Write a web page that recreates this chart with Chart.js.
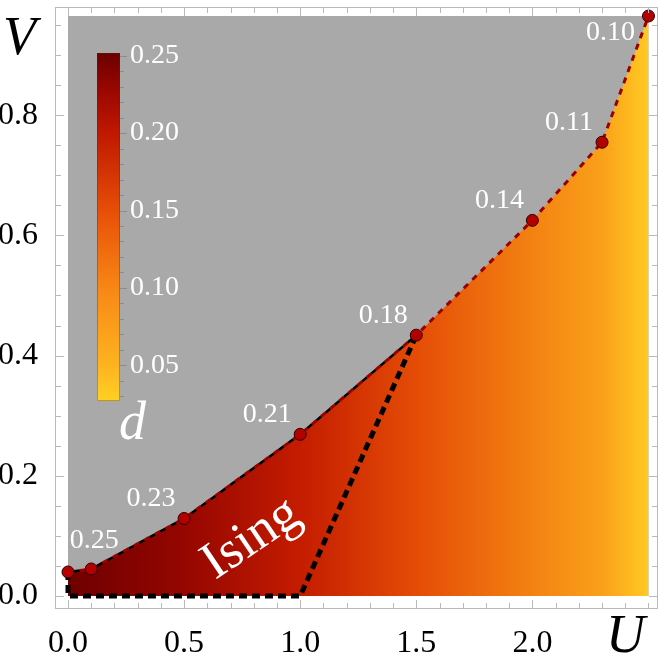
<!DOCTYPE html>
<html>
<head>
<meta charset="utf-8">
<script src="https://cdn.jsdelivr.net/npm/chart.js@4.4.0/dist/chart.umd.min.js"></script>
<style>
html, body { margin: 0; padding: 0; background: #fff; }
</style>
</head>
<body>
<canvas id="c" width="665" height="654"></canvas>
<script>
// phase boundary (U, V) and the d value written next to each point
var uVals = [0, 0.1, 0.5, 1.0, 1.5, 2.0, 2.3, 2.5];
var vVals = [0.040, 0.045, 0.129, 0.269, 0.434, 0.625, 0.755, 0.965];
var dLabels = ['', '0.25', '0.23', '0.21', '0.18', '0.14', '0.11', '0.10'];

// lower edge of the Ising region
var isingU = [0, 0, 1.0, 1.5];
var isingV = [0.040, 0, 0, 0.434];

// axis ticks
var xTickLabels = [0, 0.5, 1.0, 1.5, 2.0];
var yTickLabels = [0, 0.2, 0.4, 0.6, 0.8];
var xMinorStep = 0.1, xMinorMax = 2.5;
var yMinorStep = 0.05, yMinorMax = 0.95;

// colour bar for d
var cbTicks = [0.05, 0.10, 0.15, 0.20, 0.25];
var cbRange = [0.027, 0.2517];

var SERIF = "'Liberation Serif', 'DejaVu Serif', serif";

var fillStops = [[0, '#6e0000'], [0.2, '#950600'], [0.4, '#c41c00'], [0.6, '#e44c06'], [0.8, '#f38212'], [0.92, '#faa01a'], [1, '#ffca22']];
var cbStops = [[0, '#6a0000'], [0.1, '#980600'], [0.23, '#c01800'], [0.46, '#e85008'], [0.68, '#f88816'], [0.9, '#fdb420'], [1, '#ffd024']];

function steps(step, max) {
    var out = [];
    for (var i = 0; i * step <= max + 1e-9; i++) out.push(Math.round(i * step * 1000) / 1000);
    return out;
}
var xMinor = steps(xMinorStep, xMinorMax);
var yMinor = steps(yMinorStep, yMinorMax);

function isMajor(v, list) {
    return list.some(function (m) { return Math.abs(m - v) < 1e-6; });
}

function pts(xs, ys) {
    return xs.map(function (x, i) { return { x: x, y: ys[i] }; });
}

function fillGradient(c) {
    var chart = c.chart;
    if (!chart.chartArea) return '#c41c00';
    var xs = chart.scales.x;
    var g = chart.ctx.createLinearGradient(xs.getPixelForValue(uVals[0]), 0, xs.getPixelForValue(uVals[uVals.length - 1]), 0);
    fillStops.forEach(function (s) { g.addColorStop(s[0], s[1]); });
    return g;
}

var decor = {
    id: 'decor',
    beforeDatasetsDraw: function (chart) {
        var c = chart.ctx, xs = chart.scales.x, ys = chart.scales.y;
        var x0 = xs.getPixelForValue(uVals[0]), x1 = xs.getPixelForValue(uVals[uVals.length - 1]);
        var y0 = ys.getPixelForValue(0), y1 = ys.getPixelForValue(Math.max.apply(null, vVals));
        c.save();
        c.fillStyle = '#a9a9a9';
        c.fillRect(x0, y1, x1 - x0, y0 - y1);
        c.restore();
    },
    afterDatasetsDraw: function (chart) {
        var c = chart.ctx, xs = chart.scales.x, ys = chart.scales.y, ca = chart.chartArea;
        c.save();

        // d labels next to the points
        c.fillStyle = '#fff';
        c.font = '28px ' + SERIF;
        c.textAlign = 'center';
        c.textBaseline = 'middle';
        dLabels.forEach(function (t, i) {
            if (!t) return;
            var px = xs.getPixelForValue(uVals[i]), py = ys.getPixelForValue(vVals[i]);
            var dx = -33, dy = -20;
            if (i === 1) { dx = 3; dy = -28; }
            if (i === dLabels.length - 1) { dx = -38; dy = 17; }
            c.fillText(t, px + dx, py + dy);
        });

        // Ising label
        c.save();
        c.translate(xs.getPixelForValue(0.79), ys.getPixelForValue(0.095));
        c.rotate(-34 * Math.PI / 180);
        c.font = '53px ' + SERIF;
        c.fillText('Ising', 0, 0);
        c.restore();

        // colour bar
        var bx = ca.left + 42, bw = 23, bt = ca.top + 46, bh = 348;
        var g = c.createLinearGradient(0, bt, 0, bt + bh);
        cbStops.forEach(function (s) { g.addColorStop(s[0], s[1]); });
        c.fillStyle = g;
        c.fillRect(bx, bt, bw, bh);
        c.strokeStyle = 'rgba(90,40,0,0.35)';
        c.lineWidth = 1;
        c.strokeRect(bx + 0.5, bt + 0.5, bw - 1, bh - 1);
        var cbPix = function (d) { return bt + (cbRange[1] - d) / (cbRange[1] - cbRange[0]) * bh; };
        c.strokeStyle = '#8c8c8c';
        for (var d = 0.03; d <= 0.2501; d += 0.01) {
            var yy = Math.round(cbPix(d)) + 0.5;
            var major = isMajor(Math.round(d * 100) / 100, cbTicks);
            c.beginPath();
            c.moveTo(bx + bw, yy);
            c.lineTo(bx + bw + (major ? 7 : 4), yy);
            c.stroke();
        }
        c.fillStyle = '#fff';
        c.font = '28px ' + SERIF;
        c.textAlign = 'left';
        cbTicks.forEach(function (d) {
            c.fillText(d.toFixed(2), bx + bw + 10, cbPix(d));
        });
        c.font = 'italic 54px ' + SERIF;
        c.textBaseline = 'alphabetic';
        c.fillText('d', bx + 22, bt + bh + 38);

        c.restore();
    },
    afterDraw: function (chart) {
        var c = chart.ctx, xs = chart.scales.x, ys = chart.scales.y, ca = chart.chartArea;
        c.save();
        c.strokeStyle = '#b9b9b9';
        c.lineWidth = 1;
        c.strokeRect(ca.left + 0.5, ca.top + 0.5, ca.right - ca.left - 1, ca.bottom - ca.top - 1);
        c.beginPath();
        xs.ticks.forEach(function (t) {
            var px = Math.round(xs.getPixelForValue(t.value)) + 0.5;
            var len = isMajor(t.value, xTickLabels) ? 9 : 6;
            c.moveTo(px, ca.bottom); c.lineTo(px, ca.bottom - len);
            c.moveTo(px, ca.top); c.lineTo(px, ca.top + len);
        });
        ys.ticks.forEach(function (t) {
            var py = Math.round(ys.getPixelForValue(t.value)) + 0.5;
            var len = isMajor(t.value, yTickLabels) ? 9 : 6;
            c.moveTo(ca.left, py); c.lineTo(ca.left + len, py);
            c.moveTo(ca.right, py); c.lineTo(ca.right - len, py);
        });
        c.stroke();

        // axis letters
        c.fillStyle = '#000';
        c.font = 'italic 54px ' + SERIF;
        c.textAlign = 'left';
        c.textBaseline = 'alphabetic';
        c.fillText('V', ca.left - 52, ca.top + 47);
        c.fillText('U', ca.right - 52, ca.bottom + 43);
        c.restore();
    }
};

new Chart(document.getElementById('c'), {
    type: 'line',
    data: {
        datasets: [
            {
                // markers
                data: pts(uVals, vVals),
                showLine: false,
                pointRadius: 6,
                pointBackgroundColor: '#b30000',
                pointBorderColor: '#2a0000',
                pointBorderWidth: 1,
                order: 1
            },
            {
                // black dashes on the Ising part of the boundary
                data: pts(uVals.slice(0, 5), vVals.slice(0, 5)),
                borderColor: '#000',
                borderWidth: 2.5,
                borderDash: [6, 6],
                borderDashOffset: 6,
                pointRadius: 0,
                fill: false,
                order: 2
            },
            {
                // red dashed boundary
                data: pts(uVals, vVals),
                borderColor: '#9b0000',
                borderWidth: 3,
                borderDash: [6, 6],
                pointRadius: 0,
                fill: false,
                order: 3
            },
            {
                // Ising region lower edge
                data: pts(isingU, isingV),
                borderColor: '#000',
                borderWidth: 5,
                borderDash: [8, 5],
                pointRadius: 0,
                fill: false,
                order: 4
            },
            {
                // filled region under the boundary
                data: pts(uVals, vVals),
                borderWidth: 0,
                borderColor: 'rgba(0,0,0,0)',
                backgroundColor: fillGradient,
                pointRadius: 0,
                fill: 'origin',
                order: 5
            }
        ]
    },
    options: {
        responsive: false,
        animation: false,
        layout: { padding: { top: 5, right: 5, left: 0, bottom: 0 } },
        plugins: { legend: { display: false }, tooltip: { enabled: false } },
        elements: { line: { tension: 0 } },
        scales: {
            x: {
                type: 'linear',
                min: -0.056,
                max: 2.541,
                afterBuildTicks: function (s) { s.ticks = xMinor.map(function (v) { return { value: v }; }); },
                afterFit: function (s) { s.height = 45; s.paddingLeft = 0; s.paddingRight = 0; },
                grid: { display: false, drawTicks: false },
                border: { display: false },
                ticks: {
                    autoSkip: false,
                    maxRotation: 0,
                    padding: 15,
                    color: '#000',
                    font: { family: SERIF, size: 32 },
                    callback: function (v) { return isMajor(v, xTickLabels) ? v.toFixed(1) : ''; }
                }
            },
            y: {
                type: 'linear',
                min: -0.0216,
                max: 0.980,
                afterBuildTicks: function (s) { s.ticks = yMinor.map(function (v) { return { value: v }; }); },
                afterFit: function (s) { s.width = 55; s.paddingTop = 0; s.paddingBottom = 0; },
                grid: { display: false, drawTicks: false },
                border: { display: false },
                ticks: {
                    autoSkip: false,
                    padding: 17,
                    color: '#000',
                    font: { family: SERIF, size: 32 },
                    callback: function (v) { return isMajor(v, yTickLabels) ? v.toFixed(1) : ''; }
                }
            }
        }
    },
    plugins: [decor]
});
</script>
</body>
</html>
